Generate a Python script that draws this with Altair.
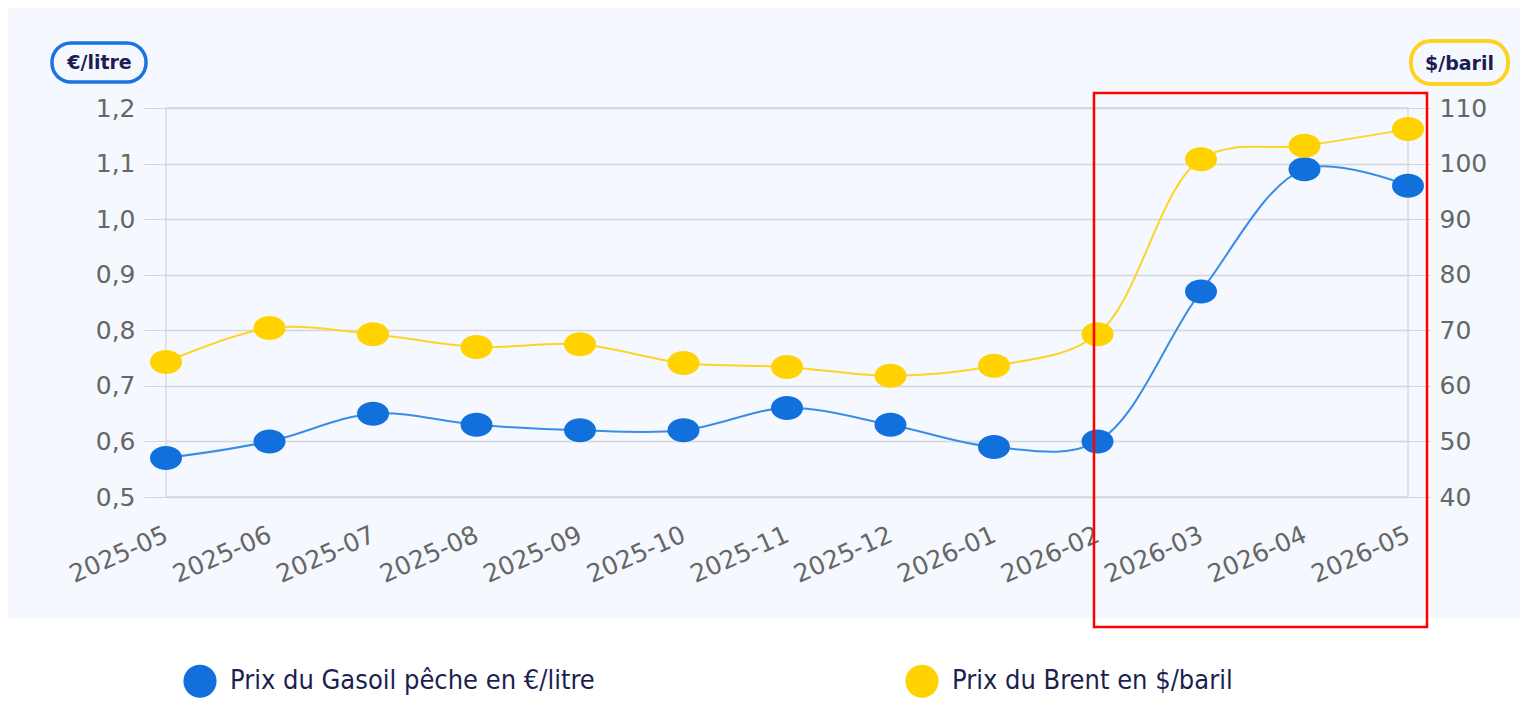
import altair as alt
import pandas as pd

months = ["2025-05", "2025-06", "2025-07", "2025-08", "2025-09", "2025-10", "2025-11",
          "2025-12", "2026-01", "2026-02", "2026-03", "2026-04", "2026-05"]
gasoil = [0.57, 0.60, 0.65, 0.63, 0.62, 0.62, 0.66, 0.63, 0.59, 0.60, 0.87, 1.09, 1.06]
brent = [64.3, 70.4, 69.3, 67.0, 67.5, 64.1, 63.4, 61.8, 63.6, 69.3, 100.8, 103.2, 106.2]
series = ["Prix du Gasoil pêche en €/litre", "Prix du Brent en $/baril"]
series_colors = ["#1170dc", "#ffd200"]
left_ticks = [0.5, 0.6, 0.7, 0.8, 0.9, 1.0, 1.1, 1.2]
right_ticks = [40, 50, 60, 70, 80, 90, 100, 110]

df_g = pd.DataFrame({"month": months, "value": gasoil, "series": series[0]})
df_b = pd.DataFrame({"month": months, "value": brent, "series": series[1]})

W, H = 1242, 389
BG = "#f5f8fe"
ELLIPSE = "M -1 0 A 1 0.75 0 1 0 1 0 A 1 0.75 0 1 0 -1 0 Z"
LABEL_FONT = "DejaVu Sans"
LEGEND_FONT = "DejaVu Sans Condensed, Liberation Sans Narrow, DejaVu Sans, sans-serif"

x_enc = alt.X(
    "month:O",
    scale=alt.Scale(type="point", domain=months, padding=0),
    axis=alt.Axis(
        title=None, labelAngle=-24, labelAlign="right", labelBaseline="middle",
        labelFont=LABEL_FONT, labelFontSize=25, labelColor="#666666",
        labelPadding=36, ticks=False, domain=False, grid=False,
    ),
)

color_enc = alt.Color(
    "series:N",
    scale=alt.Scale(domain=series, range=series_colors),
    legend=alt.Legend(
        title=None, orient="none", legendX=17, legendY=556, direction="horizontal",
        symbolType="circle", symbolSize=1100, symbolStrokeWidth=0,
        labelFont=LEGEND_FONT, labelFontSize=27, labelColor="#1c1f4f",
        labelOffset=13, columnPadding=310, labelLimit=600,
    ),
)

left_axis = alt.Axis(
    orient="left", values=left_ticks,
    labelExpr="replace(format(datum.value, '.1f'), '.', ',')",
    title="€/litre", titleAngle=0, titleX=-67, titleY=-46, titleAlign="center",
    titleBaseline="middle", titleFont=LABEL_FONT, titleFontWeight="bold",
    titleFontSize=19, titleColor="#1b1d52",
    labelFont=LABEL_FONT, labelFontSize=25, labelColor="#666666", labelPadding=9,
    tickSize=22, tickColor="#d3d6dc", domain=False,
    grid=True, gridColor="#d3d6dc", gridWidth=1.5,
)
right_axis = alt.Axis(
    orient="right", values=right_ticks,
    title="$/baril", titleAngle=0, titleX=51, titleY=-45, titleAlign="center",
    titleBaseline="middle", titleFont=LABEL_FONT, titleFontWeight="bold",
    titleFontSize=19, titleColor="#1b1d52",
    labelFont=LABEL_FONT, labelFontSize=25, labelColor="#666666", labelPadding=9,
    tickSize=22, tickColor="#d3d6dc", domain=False, grid=False,
)

y_left = alt.Y("value:Q", scale=alt.Scale(domain=[0.5, 1.2], nice=False, zero=False), axis=left_axis)
y_right = alt.Y("value:Q", scale=alt.Scale(domain=[40, 110], nice=False, zero=False), axis=right_axis)

brent_line = alt.Chart(df_b).mark_line(color="#ffd426", strokeWidth=2, interpolate="catmull-rom").encode(x=x_enc, y=y_right)
brent_pts = alt.Chart(df_b).mark_point(filled=True, shape=ELLIPSE, size=1024, opacity=1).encode(x=x_enc, y=y_right, color=color_enc)
brent_layer = alt.layer(brent_line, brent_pts)

gas_line = alt.Chart(df_g).mark_line(color="#3a8de6", strokeWidth=2, interpolate="catmull-rom").encode(x=x_enc, y=y_left)
gas_pts = alt.Chart(df_g).mark_point(filled=True, shape=ELLIPSE, size=1024, opacity=1).encode(x=x_enc, y=y_left, color=color_enc)
gas_layer = alt.layer(gas_line, gas_pts)

deco_src = pd.DataFrame({"k": [0]})
white_band = alt.Chart(deco_src).mark_rect(color="white").encode(
    x=alt.value(-160), x2=alt.value(1362), y=alt.value(510), y2=alt.value(600))
white_strip = alt.Chart(deco_src).mark_rect(color="white").encode(
    x=alt.value(1354), x2=alt.value(1362), y=alt.value(-105), y2=alt.value(600))
red_box = alt.Chart(deco_src).mark_rect(filled=False, color="#ff0000", strokeWidth=2.5).encode(
    x=alt.value(928), x2=alt.value(1261), y=alt.value(-15), y2=alt.value(519))
badge_left = alt.Chart(deco_src).mark_rect(filled=False, color="#1a73e0", strokeWidth=3.5, cornerRadius=19).encode(
    x=alt.value(-114), x2=alt.value(-20), y=alt.value(-65), y2=alt.value(-26))
badge_right = alt.Chart(deco_src).mark_rect(filled=False, color="#ffd21f", strokeWidth=4, cornerRadius=20).encode(
    x=alt.value(1245), x2=alt.value(1342), y=alt.value(-67), y2=alt.value(-24))

chart = alt.layer(
    gas_layer, brent_layer, white_band, white_strip, badge_left, badge_right, red_box
).resolve_scale(y="independent").properties(
    width=W, height=H,
    autosize=alt.AutoSizeParams(type="none"),
    padding={"left": 158, "top": 100, "right": 117, "bottom": 203},
    background=BG,
).configure_view(stroke="#d6d9de", strokeWidth=1.5)

chart.save("out.html", embed_options={"renderer": "svg", "actions": False})
